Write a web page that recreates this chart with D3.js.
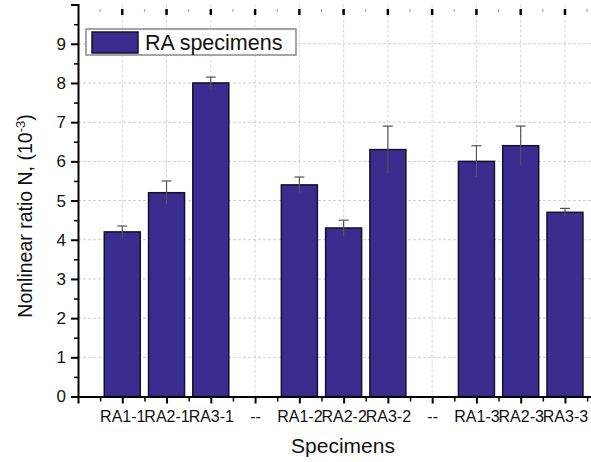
<html>
<head>
  <script src="https://d3js.org/d3.v7.min.js"></script>
  <style>
    body { margin: 0; background: #fff; }
  </style>
</head>
<body>
<script>

let categories = ["RA1-1", "RA2-1", "RA3-1", "--", "RA1-2", "RA2-2", "RA3-2", "--", "RA1-3", "RA2-3", "RA3-3"];
let values = [4.2, 5.2, 8.0, null, 5.4, 4.3, 6.3, null, 6.0, 6.4, 4.7];
let errors = [0.15, 0.3, 0.15, null, 0.2, 0.2, 0.6, null, 0.4, 0.5, 0.1];
let yTicks = [0, 1, 2, 3, 4, 5, 6, 7, 8, 9];

let canvasW = 591;
let canvasH = 462;
let left = 78;
let bottom = 396.5;

let svg = d3.select("body").append("svg")
  .attr("width", canvasW)
  .attr("height", canvasH)
  .style("background-color", "#fff");

// position i+1 for category i
let x = d3.scaleLinear().domain([0, 12]).range([left, left + 12 * 44.27]);
let y = d3.scaleLinear().domain([0, 10]).range([bottom, bottom - 10 * 39.19]);
let barW = 36;
let font = "Liberation Sans, Arial, sans-serif";

// grid
svg.append("g").selectAll("line")
  .data(yTicks.slice(1))
  .enter().append("line")
  .attr("x1", left).attr("x2", canvasW)
  .attr("y1", d => y(d)).attr("y2", d => y(d))
  .attr("stroke", "#cfcfcf").attr("stroke-width", 1)
  .attr("stroke-dasharray", "3,2");

svg.append("g").selectAll("line")
  .data(categories)
  .enter().append("line")
  .attr("x1", (d, i) => x(i + 1)).attr("x2", (d, i) => x(i + 1))
  .attr("y1", y(10)).attr("y2", bottom)
  .attr("stroke", "#d6d6d6").attr("stroke-width", 1)
  .attr("stroke-dasharray", "3,2");

// bars
let items = categories.map((c, i) => ({ c: c, i: i, v: values[i], e: errors[i] })).filter(d => d.v != null);

svg.append("g").selectAll("rect")
  .data(items)
  .enter().append("rect")
  .attr("x", d => x(d.i + 1) - barW / 2)
  .attr("y", d => y(d.v))
  .attr("width", barW)
  .attr("height", d => bottom - y(d.v))
  .attr("fill", "#3a2d8f")
  .attr("stroke", "#14102e")
  .attr("stroke-width", 1.5);

// error bars
let err = svg.append("g").attr("stroke", "#555").attr("stroke-width", 1.2);
err.selectAll(".stem")
  .data(items)
  .enter().append("line")
  .attr("x1", d => x(d.i + 1)).attr("x2", d => x(d.i + 1))
  .attr("y1", d => y(d.v - d.e)).attr("y2", d => y(d.v + d.e));
err.selectAll(".cap")
  .data(items)
  .enter().append("line")
  .attr("x1", d => x(d.i + 1) - 5).attr("x2", d => x(d.i + 1) + 5)
  .attr("y1", d => y(d.v + d.e)).attr("y2", d => y(d.v + d.e));

// left axis
let yAxis = svg.append("g")
  .attr("transform", `translate(${left},0)`)
  .call(d3.axisLeft(y).tickValues(yTicks).tickSize(7).tickPadding(5).tickFormat(d3.format("d")));
yAxis.select(".domain").attr("stroke", "#000").attr("stroke-width", 2);
yAxis.selectAll(".tick line").attr("stroke", "#000").attr("stroke-width", 2);
yAxis.selectAll("text").attr("font-family", font).attr("font-size", "17px").attr("fill", "#111");

svg.append("g")
  .attr("transform", `translate(${left},0)`)
  .call(d3.axisLeft(y).tickValues(yTicks.map(d => d + 0.5)).tickSize(4).tickFormat(""))
  .call(g => g.select(".domain").remove())
  .selectAll(".tick line").attr("stroke", "#000").attr("stroke-width", 1.5);

// bottom axis
let xAxis = svg.append("g")
  .attr("transform", `translate(0,${bottom})`)
  .call(d3.axisBottom(x).tickValues(categories.map((c, i) => i + 1)).tickSize(7).tickPadding(7)
    .tickFormat((d, i) => categories[i]));
xAxis.select(".domain").attr("stroke", "#000").attr("stroke-width", 2);
xAxis.selectAll(".tick line").attr("stroke", "#000").attr("stroke-width", 2);
xAxis.selectAll("text").attr("font-family", font).attr("font-size", "16px").attr("fill", "#111");

svg.append("g")
  .attr("transform", `translate(0,${bottom})`)
  .call(d3.axisBottom(x).tickValues(d3.range(0, 12).map(d => d + 0.5)).tickSize(5).tickFormat(""))
  .call(g => g.select(".domain").remove())
  .selectAll(".tick line").attr("stroke", "#000").attr("stroke-width", 1.5);

// top ticks (axis line is cropped off)
svg.append("g").selectAll("line")
  .data(categories)
  .enter().append("line")
  .attr("x1", (d, i) => x(i + 1)).attr("x2", (d, i) => x(i + 1))
  .attr("y1", 9).attr("y2", 15)
  .attr("stroke", "#000").attr("stroke-width", 2.5);
svg.append("g").selectAll("line")
  .data(d3.range(0, 12))
  .enter().append("line")
  .attr("x1", d => x(d + 0.5)).attr("x2", d => x(d + 0.5))
  .attr("y1", 9).attr("y2", 12)
  .attr("stroke", "#999").attr("stroke-width", 1);

// legend
let legend = svg.append("g");
legend.append("rect")
  .attr("x", 86).attr("y", 29).attr("width", 210).attr("height", 26)
  .attr("fill", "#fff").attr("stroke", "#888").attr("stroke-width", 1.5);
legend.append("rect")
  .attr("x", 92).attr("y", 32).attr("width", 46).attr("height", 21)
  .attr("fill", "#3a2d8f").attr("stroke", "#14102e").attr("stroke-width", 1.5);
legend.append("text")
  .attr("x", 145).attr("y", 50)
  .attr("font-family", font).attr("font-size", "21.5px").attr("fill", "#111")
  .text("RA specimens");

// axis titles
svg.append("text")
  .attr("transform", "translate(32,216) rotate(-90)")
  .attr("text-anchor", "middle")
  .attr("font-family", font).attr("font-size", "19.5px").attr("fill", "#111")
  .html("Nonlinear ratio N, (10<tspan dy='-7' font-size='13px'>-3</tspan><tspan dy='7'>)</tspan>");

svg.append("text")
  .attr("x", 343).attr("y", 453)
  .attr("text-anchor", "middle")
  .attr("font-family", font).attr("font-size", "21px").attr("fill", "#111")
  .text("Specimens");

</script>
</body>
</html>
